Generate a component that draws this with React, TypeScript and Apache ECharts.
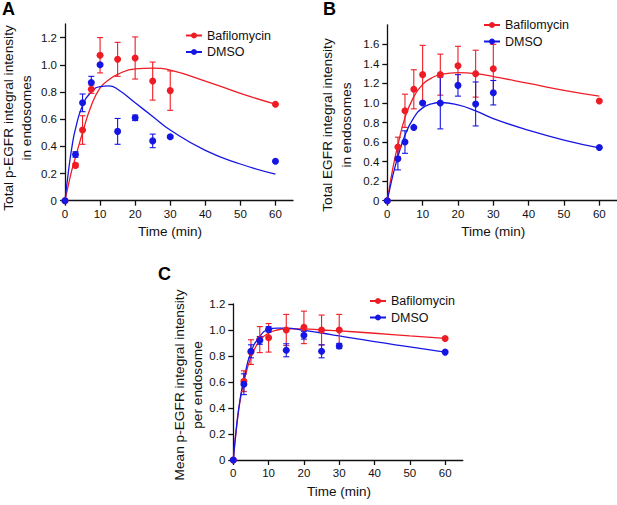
import React, { useEffect, useRef } from "react";
import * as echarts from "echarts";

// ---------- data ----------
const TIMES = [0, 3, 5, 7.5, 10, 15, 20, 25, 30, 60];
const FIT_T = [0, 1, 2, 3, 5, 7.5, 10, 12.5, 15, 20, 25, 30, 40, 50, 60];
const X_TICKS = [0, 10, 20, 30, 40, 50, 60];

// Panel A: total p-EGFR
const A_BAF_MEAN = [0, 0.26, 0.52, 0.82, 1.07, 1.04, 1.05, 0.88, 0.81, 0.71];
const A_BAF_ERR = [0, 0.015, 0.105, 0.03, 0.13, 0.125, 0.155, 0.14, 0.145, 0];
const A_DMSO_MEAN = [0, 0.34, 0.72, 0.87, 1.0, 0.51, 0.61, 0.44, 0.47, 0.29];
const A_DMSO_ERR = [0, 0.02, 0.065, 0.045, 0.01, 0.095, 0.02, 0.05, 0.01, 0];
const A_BAF_FIT = [0, 0.12, 0.23, 0.32, 0.5, 0.7, 0.83, 0.89, 0.93, 0.97, 0.975, 0.96, 0.88, 0.79, 0.71];
const A_DMSO_FIT = [0, 0.22, 0.4, 0.53, 0.7, 0.8, 0.84, 0.845, 0.82, 0.72, 0.62, 0.52, 0.37, 0.27, 0.195];
const A_Y_TICKS = [0, 0.2, 0.4, 0.6, 0.8, 1.0, 1.2];

// Panel B: total EGFR
const B_BAF_MEAN = [0, 0.55, 0.92, 1.14, 1.29, 1.29, 1.38, 1.3, 1.35, 1.02];
const B_BAF_ERR = [0, 0.1, 0.17, 0.2, 0.3, 0.21, 0.2, 0.24, 0.25, 0];
const B_DMSO_MEAN = [0, 0.43, 0.6, 0.75, 1.0, 1.0, 1.18, 0.99, 1.105, 0.545];
const B_DMSO_ERR = [0, 0.115, 0.115, 0, 0.01, 0.265, 0.11, 0.225, 0.125, 0];
const B_BAF_FIT = [0, 0.22, 0.41, 0.57, 0.85, 1.065, 1.19, 1.255, 1.29, 1.31, 1.3, 1.27, 1.2, 1.13, 1.07];
const B_DMSO_FIT = [0, 0.17, 0.32, 0.45, 0.67, 0.85, 0.95, 0.99, 1.005, 0.98, 0.92, 0.84, 0.72, 0.62, 0.54];
const B_Y_TICKS = [0, 0.2, 0.4, 0.6, 0.8, 1.0, 1.2, 1.4, 1.6];

// Panel C: mean p-EGFR per endosome
const C_BAF_MEAN = [0, 0.606, 0.83, 0.926, 0.94, 1.0, 1.02, 1.0, 1.0, 0.935];
const C_BAF_ERR = [0, 0.08, 0.095, 0.1, 0.11, 0.12, 0.125, 0.115, 0.12, 0];
const C_DMSO_MEAN = [0, 0.583, 0.836, 0.92, 1.005, 0.844, 0.96, 0.836, 0.877, 0.83];
const C_DMSO_ERR = [0, 0.08, 0.05, 0.03, 0.02, 0.05, 0.03, 0.05, 0.02, 0];
const C_BAF_FIT = [0, 0.27, 0.47, 0.6, 0.79, 0.92, 0.975, 1.0, 1.008, 1.008, 1.0, 0.993, 0.975, 0.955, 0.935];
const C_DMSO_FIT = [0, 0.28, 0.48, 0.62, 0.83, 0.95, 1.005, 1.015, 1.015, 0.997, 0.977, 0.954, 0.91, 0.87, 0.83];
const C_Y_TICKS = [0, 0.2, 0.4, 0.6, 0.8, 1.0, 1.2];

const SERIES_NAMES = ["Bafilomycin", "DMSO"];

// ---------- styles ----------
const RED = "#ee1c25";
const BLUE = "#1616e4";
const FONT = "Liberation Sans, Arial, sans-serif";
const AXIS_COLOR = "#111";

function fmtY(v: number) {
  return v === 0 ? "0" : v.toFixed(1);
}

function xAxisFor(gridIndex: number) {
  return {
    type: "value",
    gridIndex,
    min: 0,
    max: 65,
    interval: 10,
    axisLine: { show: true, lineStyle: { color: AXIS_COLOR, width: 1.3 } },
    axisTick: { show: true, length: 5, customValues: X_TICKS, lineStyle: { color: AXIS_COLOR, width: 1.3 } },
    axisLabel: { customValues: X_TICKS, fontSize: 11.5, color: "#111", fontFamily: FONT, margin: 7 },
    splitLine: { show: false },
    name: "Time (min)",
    nameLocation: "middle",
    nameGap: 24,
    nameTextStyle: { fontSize: 13.5, color: "#111", fontFamily: FONT, padding: [0, 18, 0, 0] },
  };
}

function yAxisFor(gridIndex: number, max: number, ticks: number[]) {
  return {
    type: "value",
    gridIndex,
    min: 0,
    max,
    interval: 0.2,
    axisLine: { show: true, lineStyle: { color: AXIS_COLOR, width: 1.3 } },
    axisTick: { show: true, length: 5, customValues: ticks, lineStyle: { color: AXIS_COLOR, width: 1.3 } },
    axisLabel: { customValues: ticks, fontSize: 11.5, color: "#111", fontFamily: FONT, margin: 8, formatter: fmtY },
    splitLine: { show: false },
  };
}

function errRender(color: string) {
  return (params: any, api: any) => {
    const x = api.value(0);
    const lo = api.coord([x, api.value(1)]);
    const hi = api.coord([x, api.value(2)]);
    const cap = 3;
    const style = { stroke: color, lineWidth: 1.1 };
    return {
      type: "group",
      children: [
        { type: "line", shape: { x1: lo[0], y1: lo[1], x2: hi[0], y2: hi[1] }, style },
        { type: "line", shape: { x1: hi[0] - cap, y1: hi[1], x2: hi[0] + cap, y2: hi[1] }, style },
        { type: "line", shape: { x1: lo[0] - cap, y1: lo[1], x2: lo[0] + cap, y2: lo[1] }, style },
      ],
    };
  };
}

function panelSeries(
  idx: number,
  bafMean: number[],
  bafErr: number[],
  dmsoMean: number[],
  dmsoErr: number[],
  bafFit: number[],
  dmsoFit: number[]
) {
  const groups = [
    { name: SERIES_NAMES[0], color: RED, mean: bafMean, err: bafErr, fit: bafFit },
    { name: SERIES_NAMES[1], color: BLUE, mean: dmsoMean, err: dmsoErr, fit: dmsoFit },
  ];
  const out: any[] = [];
  groups.forEach((g) => {
    out.push({
      type: "line",
      name: g.name,
      xAxisIndex: idx,
      yAxisIndex: idx,
      data: FIT_T.map((t, i) => [t, g.fit[i]]),
      smooth: 0.5,
      symbol: "circle",
      symbolSize: 7,
      showSymbol: false,
      lineStyle: { color: g.color, width: 1.3 },
      itemStyle: { color: g.color },
      z: 2,
      silent: true,
    });
    out.push({
      type: "custom",
      name: g.name + " error",
      xAxisIndex: idx,
      yAxisIndex: idx,
      renderItem: errRender(g.color),
      encode: { x: 0, y: [1, 2] },
      clip: false,
      data: TIMES.map((t, i) => [t, g.mean[i] - g.err[i], g.mean[i] + g.err[i]]).filter(
        (_d, i) => g.err[i] > 0
      ),
      z: 3,
      silent: true,
    });
    out.push({
      type: "scatter",
      name: g.name + " mean",
      xAxisIndex: idx,
      yAxisIndex: idx,
      data: TIMES.map((t, i) => [t, g.mean[i]]),
      symbol: "circle",
      symbolSize: 7,
      itemStyle: { color: g.color, opacity: 1 },
      z: 4,
      silent: true,
    });
  });
  return out;
}

function legendAt(left: number, top: number) {
  return {
    data: SERIES_NAMES,
    orient: "vertical",
    left,
    top,
    itemWidth: 16,
    itemHeight: 7.5,
    itemGap: 3.5,
    selectedMode: false,
    lineStyle: { width: 2 },
    textStyle: { fontSize: 12.5, color: "#111", fontFamily: FONT },
  };
}

function yName(lines: string[], xs: number[], y: number) {
  return lines.map((t, i) => ({
    type: "text",
    x: xs[i],
    y,
    rotation: Math.PI / 2,
    style: {
      text: t,
      fontSize: 13.7,
      fontFamily: FONT,
      fill: "#111",
      align: "center",
      verticalAlign: "middle",
    },
  }));
}

function panelLabel(text: string, x: number, y: number) {
  return {
    type: "text",
    x,
    y,
    style: { text, fontSize: 18, fontWeight: "bold", fontFamily: FONT, fill: "#000", align: "left", verticalAlign: "top" },
  };
}

export default function App() {
  const ref = useRef<HTMLDivElement>(null);
  useEffect(() => {
    if (!ref.current) return;
    const chart = echarts.init(ref.current, undefined, { renderer: "svg" });
    const option: any = {
      animation: false,
      backgroundColor: "#fff",
      grid: [
        { left: 65, top: 24, width: 228, height: 176.7 },
        { left: 387.3, top: 24.8, width: 230.4, height: 175.9 },
        { left: 233.3, top: 304, width: 229.5, height: 156 },
      ],
      xAxis: [xAxisFor(0), xAxisFor(1), xAxisFor(2)],
      yAxis: [yAxisFor(0, 1.3, A_Y_TICKS), yAxisFor(1, 1.8, B_Y_TICKS), yAxisFor(2, 1.2, C_Y_TICKS)],
      legend: [legendAt(180, 24), legendAt(478, 13.5), legendAt(364, 289.5)],
      series: [
        ...panelSeries(0, A_BAF_MEAN, A_BAF_ERR, A_DMSO_MEAN, A_DMSO_ERR, A_BAF_FIT, A_DMSO_FIT),
        ...panelSeries(1, B_BAF_MEAN, B_BAF_ERR, B_DMSO_MEAN, B_DMSO_ERR, B_BAF_FIT, B_DMSO_FIT),
        ...panelSeries(2, C_BAF_MEAN, C_BAF_ERR, C_DMSO_MEAN, C_DMSO_ERR, C_BAF_FIT, C_DMSO_FIT),
      ],
      graphic: [
        panelLabel("A", 2, 0),
        panelLabel("B", 323, 0),
        panelLabel("C", 158, 265),
        ...yName(["Total p-EGFR integral intensity", "in endosomes"], [8, 26.5], 118),
        ...yName(["Total EGFR integral intensity", "in endosomes"], [327, 346], 125),
        ...yName(["Mean p-EGFR integral intensity", "per endosome"], [179, 197], 385),
      ],
    };
    chart.setOption(option);
    return () => chart.dispose();
  }, []);
  return (
    <div
      ref={ref}
      style={{ position: "fixed", left: 0, top: 0, width: 617, height: 505, background: "#fff" }}
    />
  );
}
